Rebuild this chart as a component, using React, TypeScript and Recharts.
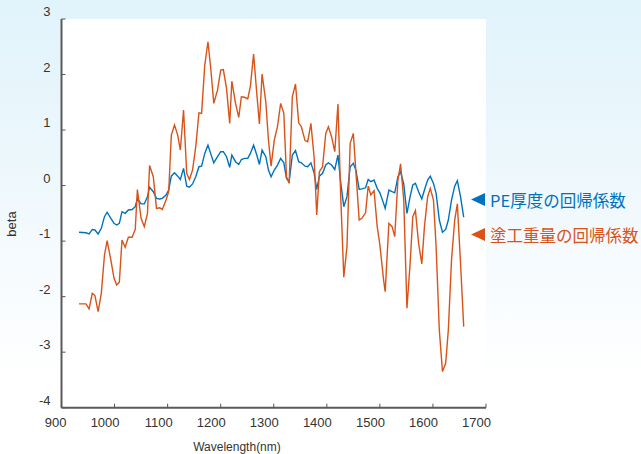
import React from 'react';
import { LineChart, Line, XAxis, YAxis, Legend, Label } from 'recharts';

// Wavelength (nm)
const wavelengths = [
  933, 946, 952, 958, 963, 969, 975, 981, 986, 993,
  999, 1004, 1009, 1014, 1020, 1026, 1033, 1039, 1043, 1050,
  1056, 1062, 1066, 1073, 1079, 1085, 1090, 1097, 1102, 1107,
  1113, 1119, 1124, 1130, 1136, 1141, 1147, 1153, 1159, 1164,
  1170, 1176, 1181, 1187, 1194, 1200, 1205, 1211, 1217, 1221,
  1228, 1234, 1239, 1245, 1251, 1256, 1262, 1268, 1273, 1278,
  1285, 1290, 1295, 1301, 1307, 1313, 1319, 1324, 1329, 1335,
  1341, 1347, 1352, 1359, 1364, 1370, 1376, 1381, 1386, 1392,
  1398, 1403, 1409, 1415, 1421, 1426, 1432, 1438, 1444, 1450,
  1455, 1461, 1466, 1473, 1478, 1483, 1489, 1495, 1500, 1507,
  1510, 1517, 1523, 1528, 1534, 1539, 1545, 1551, 1557, 1562,
  1567, 1573, 1579, 1584, 1590, 1595, 1601, 1606, 1612, 1618,
  1624, 1629, 1635, 1641, 1646, 1652, 1658,
];

// PE厚度の回帰係数
const peThickness = [
  -0.84, -0.85, -0.87, -0.79, -0.8, -0.87, -0.77, -0.56, -0.48, -0.59,
  -0.68, -0.71, -0.68, -0.47, -0.5, -0.44, -0.43, -0.38, -0.23, -0.33,
  -0.33, -0.2, -0.03, -0.11, -0.23, -0.24, -0.23, -0.17, -0.08, 0.17,
  0.23, 0.17, 0.11, 0.31, -0.01, -0.03, 0.03, 0.16, 0.34, 0.35,
  0.58, 0.73, 0.58, 0.41, 0.52, 0.61, 0.61, 0.52, 0.33, 0.55,
  0.43, 0.38, 0.47, 0.49, 0.49, 0.58, 0.73, 0.55, 0.38, 0.64,
  0.52, 0.28, 0.16, 0.28, 0.37, 0.49, 0.41, 0.13, 0.07, 0.55,
  0.63, 0.43, 0.41, 0.35, 0.34, 0.41, 0.23, -0.07, 0.17, 0.22,
  0.37, 0.41, 0.37, 0.29, 0.55, 0.07, -0.38, -0.2, 0.34, 0.4,
  0.27, -0.07, -0.06, -0.04, 0.11, 0.07, 0.1, -0.05, -0.13, -0.32,
  -0.41, -0.08, -0.11, -0.13, 0.16, 0.25, 0.03, -0.5, -0.2, 0.01,
  0.04, -0.11, -0.24, -0.08, 0.1, 0.17, 0.04, -0.14, -0.62, -0.84,
  -0.79, -0.62, -0.26, -0.01, 0.09, -0.2, -0.57,
];

// 塗工重量の回帰係数
const coatingWeight = [
  -2.13, -2.13, -2.22, -1.94, -1.98, -2.27, -1.94, -1.25, -0.99, -1.34,
  -1.67, -1.79, -1.74, -0.98, -1.11, -0.93, -0.93, -0.79, -0.07, -0.59,
  -0.74, -0.5, 0.36, 0.16, -0.41, -0.4, -0.43, -0.26, -0.11, 0.91,
  1.09, 0.91, 0.64, 1.36, 0.22, 0.11, 0.28, 0.7, 1.31, 1.3,
  2.17, 2.59, 2.14, 1.48, 1.72, 2.08, 2.09, 1.75, 1.12, 1.88,
  1.48, 1.23, 1.6, 1.59, 1.56, 1.79, 2.37, 1.66, 1.11, 2.01,
  1.51, 0.82, 0.35, 0.82, 1.06, 1.48, 1.3, 0.16, 0.04, 1.6,
  1.83, 1.13, 1.06, 0.81, 0.79, 1.12, 0.52, -0.53, 0.25, 0.34,
  0.94, 1.06, 0.88, 0.61, 1.47, -0.14, -1.65, -1.1, 0.76, 0.94,
  0.22, -0.62, -0.59, -0.49, -0.01, -0.17, -0.09, -0.74, -1.07, -1.7,
  -1.91, -0.68, -0.74, -0.92, 0.1, 0.39, -0.26, -2.21, -1.4, -0.56,
  -0.45, -1.04, -1.41, -0.74, -0.2, -0.05, -0.26, -1.1, -2.6, -3.35,
  -3.2, -2.6, -1.34, -0.62, -0.33, -1.4, -2.54,
];

const xTicks = [900, 1000, 1100, 1200, 1300, 1400, 1500, 1600, 1700];
const yTicks = [-4, -3, -2, -1, 0, 1, 2, 3];
const seriesNames = ['PE厚度の回帰係数', '塗工重量の回帰係数'];
const xLabel = 'Wavelength(nm)';
const yLabel = 'beta';

const data = wavelengths.map((w, i) => ({
  w,
  pe: peThickness[i],
  coat: coatingWeight[i],
}));

const FONT = '"Liberation Sans", Arial, sans-serif';
const BLUE = '#0072BD';
const ORANGE = '#D95319';

const XTick = (props: any) => {
  const { x, y, payload } = props;
  return (
    <g>
      <line x1={x} x2={x} y1={y} y2={y - 4} stroke="#555" strokeWidth={1} />
      <text x={x + 5} y={y + 19} textAnchor="end" fontSize={13} fontFamily={FONT} fill="#333">
        {payload.value}
      </text>
    </g>
  );
};

const YTick = (props: any) => {
  const { x, y, payload } = props;
  return (
    <g>
      <line x1={x} x2={x + 4} y1={y} y2={y} stroke="#555" strokeWidth={1} />
      <text x={x - 11} y={y - 3} textAnchor="end" fontSize={13} fontFamily={FONT} fill="#333">
        {payload.value}
      </text>
    </g>
  );
};

const renderLegend = (props: any) => {
  const { payload } = props;
  return (
    <div>
      {(payload || []).map((entry: any, i: number) => (
        <div
          key={i}
          style={{ display: 'flex', alignItems: 'center', height: 35 }}
        >
          <svg width={14} height={13} style={{ display: 'block', marginRight: 5 }}>
            <polygon points="0,6.5 14,0 14,13" fill={entry.color} />
          </svg>
          <span
            style={{
              fontFamily: '"Noto Sans CJK JP", "Noto Sans", sans-serif',
              fontSize: 16.5,
              color: entry.color,
              whiteSpace: 'nowrap',
              lineHeight: '20px',
            }}
          >
            {entry.value}
          </span>
        </div>
      ))}
    </div>
  );
};

export default function App() {
  return (
    <div
      style={{
        position: 'absolute',
        left: 0,
        top: 0,
        width: 641,
        height: 454,
        overflow: 'hidden',
        background: 'linear-gradient(180deg, #e1f3fb 0%, #ecf7fc 35%, #f7fbfe 60%, #ffffff 85%)',
      }}
    >
      <div
        style={{
          position: 'absolute',
          left: 61,
          top: 19,
          width: 425,
          height: 435,
          background: '#ffffff',
        }}
      />
      <div style={{ position: 'absolute', left: 0, top: 0 }}>
        <LineChart
          width={641}
          height={454}
          data={data}
          margin={{ top: 19, right: 155, left: 0, bottom: 0 }}
        >
          <XAxis
            dataKey="w"
            type="number"
            domain={[900, 1700]}
            ticks={xTicks}
            height={46.3}
            tickSize={0}
            tickMargin={0}
            tickLine={false}
            tick={<XTick />}
            axisLine={{ stroke: '#5a5a5a', strokeWidth: 2 }}
            interval={0}
          >
            <Label
              content={() => (
                <text x={237} y={451} textAnchor="middle" fontSize={12} fontFamily={FONT} fill="#333">
                  {xLabel}
                </text>
              )}
            />
          </XAxis>
          <YAxis
            type="number"
            domain={[-4, 3]}
            ticks={yTicks}
            width={61.5}
            tickSize={0}
            tickMargin={0}
            tickLine={false}
            tick={<YTick />}
            axisLine={{ stroke: '#5a5a5a', strokeWidth: 2 }}
            interval={0}
          >
            <Label
              content={() => (
                <text
                  x={13}
                  y={224}
                  transform="rotate(-90 13 224)"
                  textAnchor="middle"
                  dominantBaseline="middle"
                  fontSize={13}
                  fontFamily={FONT}
                  fill="#333"
                >
                  {yLabel}
                </text>
              )}
            />
          </YAxis>
          <Legend
            layout="vertical"
            align="center"
            verticalAlign="middle"
            content={renderLegend}
            wrapperStyle={{ position: 'absolute', left: 471, top: 182, width: 175 }}
          />
          <Line
            type="linear"
            dataKey="pe"
            name={seriesNames[0]}
            stroke={BLUE}
            strokeWidth={1.4}
            dot={false}
            activeDot={false}
            isAnimationActive={false}
          />
          <Line
            type="linear"
            dataKey="coat"
            name={seriesNames[1]}
            stroke={ORANGE}
            strokeWidth={1.4}
            dot={false}
            activeDot={false}
            isAnimationActive={false}
          />
        </LineChart>
      </div>
    </div>
  );
}
